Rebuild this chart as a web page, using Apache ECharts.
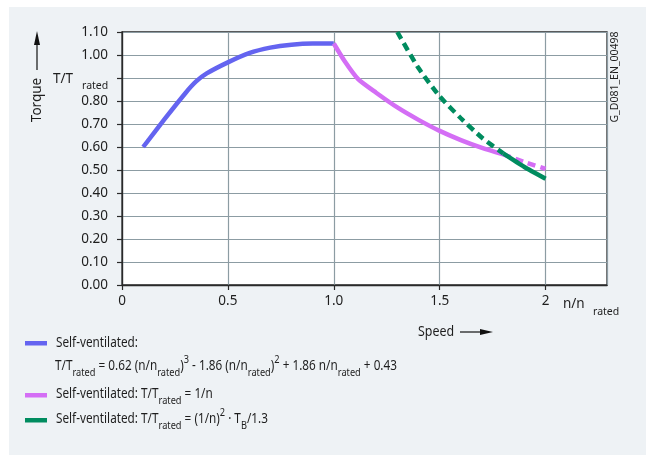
<!DOCTYPE html>
<html><head><meta charset="utf-8">
<script src="https://cdn.jsdelivr.net/npm/echarts@6/dist/echarts.min.js"></script>
<style>html,body{margin:0;padding:0;background:#fff}#c{width:646px;height:455px}</style>
</head><body><div id="c"></div>
<script>
// ---- data ----
const blueN   = [0.10, 0.20, 0.30, 0.35, 0.40, 0.50, 0.60, 0.70, 0.80, 0.90, 1.00];
const blueT   = [0.60, 0.72, 0.835, 0.885, 0.92, 0.968, 1.008, 1.032, 1.045, 1.05, 1.05];
const purpleN = [1.00, 1.05, 1.115, 1.20, 1.30, 1.40, 1.50, 1.60, 1.70, 1.80];
const purpleT = [1.05, 0.975, 0.895, 0.836, 0.772, 0.718, 0.67, 0.63, 0.596, 0.568];
const purpleDashN = [1.80, 1.90, 2.00];
const purpleDashT = [0.568, 0.535, 0.505];
const greenDashN = [1.30, 1.40, 1.50, 1.60, 1.70, 1.80];
const greenDashT = [1.10, 0.943, 0.82, 0.725, 0.64, 0.572];
const greenN = [1.80, 1.90, 2.00];
const greenT = [0.572, 0.513, 0.462];
const xTickLabels = {0: '0', 0.5: '0.5', 1: '1.0', 1.5: '1.5', 2: '2'};
const yHiddenLabel = 0.9;
const legendItems = [
  {color: '#6464f0'},
  {color: '#d46ef5'},
  {color: '#008c5f'}
];

const FONT = 'Noto Sans';
const TXT = '#1e1e1e';
const BLUE = '#6464f0', PURPLE = '#d46ef5', GREEN = '#008c5f';

function pairs(a, b) { return a.map((v, i) => [v, b[i]]); }

const chart = echarts.init(document.getElementById('c'), null, {renderer: 'canvas'});

const richBase = {
  b: {fontSize: 14, fontFamily: FONT, color: TXT, lineHeight: 24, verticalAlign: 'middle'},
  s: {fontSize: 11, fontFamily: FONT, color: TXT, lineHeight: 11, verticalAlign: 'bottom'},
  p: {fontSize: 11, fontFamily: FONT, color: TXT, lineHeight: 11, verticalAlign: 'top'}
};
function rtext(x, y, text, sx) {
  return {type: 'text', x: x, y: y, scaleX: sx || 0.84, originX: 0, z: 10,
    style: {text: text, rich: richBase, fontFamily: FONT, fontSize: 14, fill: TXT, verticalAlign: 'middle', align: 'left'}};
}

const graphics = [
  {type: 'rect', shape: {x: 9, y: 7, width: 646, height: 460}, style: {fill: '#eef2f5'}, z: -10},
  // Torque label with arrow
  {type: 'text', x: 37, y: 100, rotation: Math.PI / 2, z: 10,
    style: {text: 'Torque', fontFamily: FONT, fontSize: 13.5, fill: TXT, align: 'center', verticalAlign: 'middle'}},
  {type: 'line', shape: {x1: 37, y1: 70, x2: 37, y2: 42}, style: {stroke: '#111', lineWidth: 1.2}, z: 10},
  {type: 'polygon', shape: {points: [[37, 31], [34, 45], [40, 45]]}, style: {fill: '#111'}, z: 10},
  {type: 'text', x: 53, y: 79, z: 10, style: {text: 'T/T', fontFamily: FONT, fontSize: 13.5, fill: TXT, verticalAlign: 'middle'}},
  {type: 'text', x: 82, y: 86, z: 10, style: {text: 'rated', fontFamily: FONT, fontSize: 10.5, fill: TXT, verticalAlign: 'middle'}},
  // n/n rated
  {type: 'text', x: 563, y: 304, z: 10, style: {text: 'n/n', fontFamily: FONT, fontSize: 13.5, fill: TXT, verticalAlign: 'middle'}},
  {type: 'text', x: 593, y: 312, z: 10, style: {text: 'rated', fontFamily: FONT, fontSize: 10.5, fill: TXT, verticalAlign: 'middle'}},
  // Speed arrow
  {type: 'text', x: 418, y: 332, scaleX: 0.92, z: 10, style: {text: 'Speed', fontFamily: FONT, fontSize: 13.5, fill: TXT, verticalAlign: 'middle'}},
  {type: 'line', shape: {x1: 460, y1: 332, x2: 484, y2: 332}, style: {stroke: '#111', lineWidth: 1.2}, z: 10},
  {type: 'polygon', shape: {points: [[493, 332], [480, 329], [480, 335]]}, style: {fill: '#111'}, z: 10},
  // drawing id
  {type: 'text', x: 615, y: 77, rotation: Math.PI / 2, z: 10,
    style: {text: 'G_D081_EN_00498', fontFamily: FONT, fontSize: 10.5, fill: TXT, align: 'center', verticalAlign: 'middle'}},
  // legend bars
  {type: 'rect', shape: {x: 25, y: 341, width: 22, height: 4.5}, style: {fill: legendItems[0].color}, z: 10},
  {type: 'rect', shape: {x: 25, y: 393, width: 22, height: 4.5}, style: {fill: legendItems[1].color}, z: 10},
  {type: 'rect', shape: {x: 25, y: 418, width: 22, height: 4.5}, style: {fill: legendItems[2].color}, z: 10},
  rtext(56, 343, '{b|Self-ventilated:}'),
  rtext(55, 366, '{b|T/T}{s|rated}{b| = 0.62 (n/n}{s|rated}{b|)}{p|3}{b| - 1.86 (n/n}{s|rated}{b|)}{p|2}{b| + 1.86 n/n}{s|rated}{b| + 0.43}'),
  rtext(56, 394, '{b|Self-ventilated: T/T}{s|rated}{b| = 1/n}'),
  rtext(56, 419, '{b|Self-ventilated: T/T}{s|rated}{b| = (1/n)}{p|2}{b| · T}{s|B}{b|/1.3}')
];

const option = {
  animation: false,
  backgroundColor: '#ffffff',
  grid: {left: 122, right: 39, top: 32, bottom: 170, show: true, backgroundColor: '#ffffff', borderColor: '#2a2a2a', borderWidth: 1.3},
  xAxis: {
    type: 'value', min: 0, max: 2.29, interval: 0.5, z: 2,
    axisLine: {show: true, lineStyle: {color: '#2a2a2a', width: 1.3}},
    axisTick: {show: true, length: 5, lineStyle: {color: '#2a2a2a', width: 1.2}},
    splitLine: {show: true, lineStyle: {color: '#8c9ca3', width: 1.2}},
    axisLabel: {margin: 9, fontFamily: FONT, fontSize: 13.5, color: TXT,
      formatter: v => { for (const k in xTickLabels) { if (Math.abs(v - Number(k)) < 1e-6) return xTickLabels[k]; } return ''; },
      showMaxLabel: false}
  },
  yAxis: {
    type: 'value', min: 0, max: 1.1, interval: 0.1, z: 2,
    axisLine: {show: true, lineStyle: {color: '#2a2a2a', width: 1.3}},
    axisTick: {show: true, length: 5, lineStyle: {color: '#2a2a2a', width: 1.2}},
    splitLine: {show: true, lineStyle: {color: '#8c9ca3', width: 1.2}},
    axisLabel: {margin: 14, fontFamily: FONT, fontSize: 13.5, color: TXT,
      formatter: v => Math.abs(v - yHiddenLabel) < 1e-6 ? '' : v.toFixed(2)}
  },
  series: [
    {type: 'line', data: pairs(blueN, blueT), smooth: 0.2, showSymbol: false, lineStyle: {color: BLUE, width: 4.5}, z: 3},
    {type: 'line', data: pairs(purpleN, purpleT), smooth: 0.2, showSymbol: false, lineStyle: {color: PURPLE, width: 4.5}, z: 3},
    {type: 'line', data: pairs(purpleDashN, purpleDashT), smooth: 0.2, showSymbol: false, lineStyle: {color: PURPLE, width: 4.5, type: [8, 5]}, z: 3},
    {type: 'line', data: pairs(greenDashN, greenDashT), smooth: 0.2, showSymbol: false, lineStyle: {color: GREEN, width: 4.5, type: [8, 5]}, z: 4},
    {type: 'line', data: pairs(greenN, greenT), smooth: 0.2, showSymbol: false, lineStyle: {color: GREEN, width: 4.5}, z: 4}
  ],
  graphic: graphics
};
chart.setOption(option);
</script></body></html>
